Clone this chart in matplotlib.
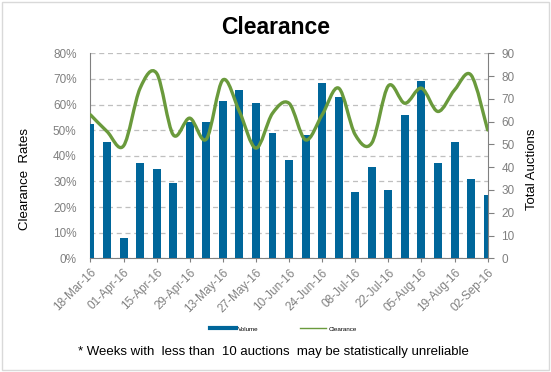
import numpy as np
import matplotlib
matplotlib.use("Agg")
import matplotlib.pyplot as plt
from matplotlib.path import Path
from matplotlib.patches import PathPatch, Rectangle
from matplotlib.lines import Line2D

plt.rcParams['font.family'] = ['Liberation Sans', 'DejaVu Sans']

# the data
weeks = ['18-Mar-16', '25-Mar-16', '01-Apr-16', '08-Apr-16', '15-Apr-16', '22-Apr-16',
         '29-Apr-16', '06-May-16', '13-May-16', '20-May-16', '27-May-16', '03-Jun-16',
         '10-Jun-16', '17-Jun-16', '24-Jun-16', '01-Jul-16', '08-Jul-16', '15-Jul-16',
         '22-Jul-16', '29-Jul-16', '05-Aug-16', '12-Aug-16', '19-Aug-16', '26-Aug-16',
         '02-Sep-16']
volume = [59, 51, 9, 42, 39, 33, 60, 60, 69, 74, 68, 55, 43, 54, 77, 71,
          29, 40, 30, 63, 78, 42, 51, 35, 28]
clearance = [56.0, 49.5, 43.9, 66.4, 72.2, 48.2, 54.7, 46.5, 69.6, 57.3, 43.0, 56.6,
             60.5, 46.2, 56.0, 66.4, 48.2, 45.0, 67.3, 60.5, 66.4, 57.3, 65.7, 71.5, 50.1]

bar_color = '#00669a'
line_color = '#6a9a3c'
grey = '#808080'

fig = plt.figure(figsize=(5.51, 3.72), dpi=100)
fig.patches.append(Rectangle((0.004, 0.006), 0.992, 0.988, transform=fig.transFigure,
                             fill=False, edgecolor='#d9d9d9', linewidth=1))

ax = fig.add_axes([0.1642, 0.3056, 0.7208, 0.5511])   # percent axis + grid
ax2 = ax.twinx()                                       # bars
ax3 = ax.twinx()                                       # smoothed line on top

ind = np.arange(len(weeks))

# grid / left axis
ax.set_xlim(0, len(weeks) - 1)
ax.set_ylim(0, 80)
ax.set_yticks(np.arange(0, 81, 10))
ax.set_yticklabels(['%d%%' % v for v in range(0, 81, 10)])
ax.yaxis.grid(True, color='#bfbfbf', linestyle=(0, (4, 3)), linewidth=0.9)
ax.tick_params(axis='y', length=0, pad=10, labelsize=8.5, labelcolor=grey)
ax.set_xticks(ind[::2])
ax.set_xticklabels(weeks[::2], rotation=45, ha='right', rotation_mode='anchor')
ax.tick_params(axis='x', length=3, color=grey, pad=3, labelsize=8.5, labelcolor=grey)
for s in ['top', 'right']:
    ax.spines[s].set_visible(False)
for s in ['left', 'bottom']:
    ax.spines[s].set_color(grey)

# bars
ax2.bar(ind, volume, 0.48, color=bar_color, zorder=2)
ax2.set_ylim(0, 90)
ax2.set_yticks(np.arange(0, 91, 10))
ax2.tick_params(axis='y', length=4, color=grey, pad=6, labelsize=8.5, labelcolor=grey)
for s in ['top', 'left', 'bottom']:
    ax2.spines[s].set_visible(False)
ax2.spines['right'].set_color(grey)

# smoothed clearance line (Catmull-Rom as bezier segments)
pts = np.column_stack([ind, clearance]).astype(float)
ext = np.vstack([pts[0], pts, pts[-1]])
verts = [tuple(pts[0])]
codes = [Path.MOVETO]
for i in range(len(pts) - 1):
    p0, p1, p2, p3 = ext[i], ext[i + 1], ext[i + 2], ext[i + 3]
    c1 = p1 + (p2 - p0) / 6.0
    c2 = p2 - (p3 - p1) / 6.0
    verts += [tuple(c1), tuple(c2), tuple(p2)]
    codes += [Path.CURVE4] * 3
ax3.add_patch(PathPatch(Path(verts, codes), fill=False, edgecolor=line_color,
                        linewidth=2.4, capstyle='round', joinstyle='round'))
ax3.set_ylim(0, 80)
ax3.set_yticks([])
for s in ax3.spines.values():
    s.set_visible(False)

# labels
fig.text(0.5, 0.925, 'Clearance', ha='center', va='center', fontsize=16.5,
         fontweight='bold', color='black')
fig.text(0.045, 0.52, 'Clearance  Rates', rotation=90, ha='center', va='center',
         fontsize=9.5, color='black')
fig.text(0.966, 0.545, 'Total Auctions', rotation=90, ha='center', va='center',
         fontsize=9.5, color='black')
fig.text(0.497, 0.054, '* Weeks with  less than  10 auctions  may be statistically unreliable',
         ha='center', va='center', fontsize=9.5, color='black')

# legend
handles = [Line2D([], [], color=bar_color, linewidth=3),
           Line2D([], [], color=line_color, linewidth=1)]
fig.legend(handles, ['Volume', 'Clearance'], loc='center', bbox_to_anchor=(0.514, 0.116),
           ncol=2, frameon=False, fontsize=4.5, handlelength=4.2, columnspacing=6.5,
           handletextpad=0.4)

fig.savefig('out.png', dpi=100)
